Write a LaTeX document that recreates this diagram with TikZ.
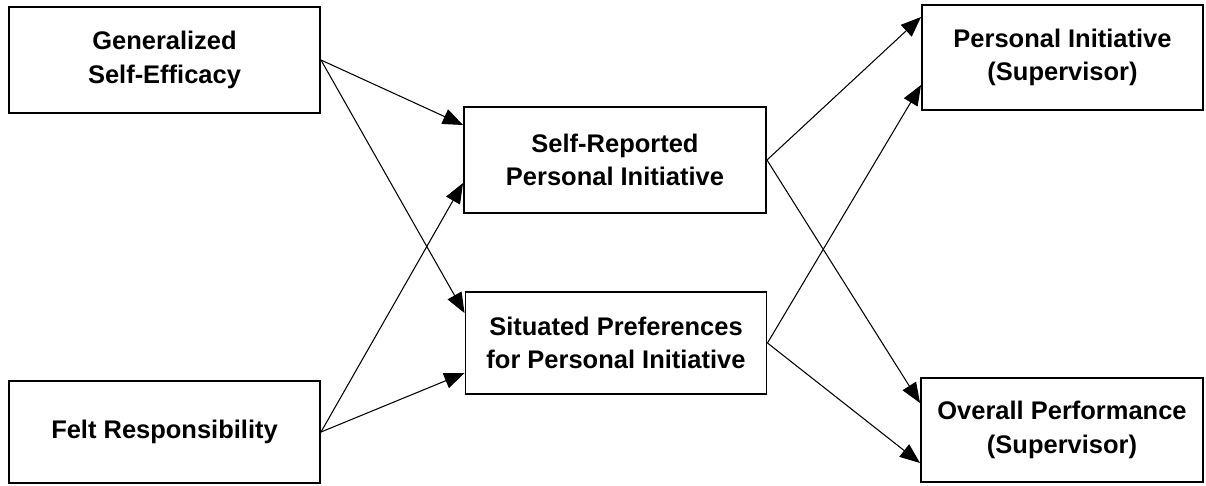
\documentclass[tikz,border=0pt]{standalone}
\usepackage{fontspec}
\setmainfont{Liberation Sans}
\usetikzlibrary{arrows.meta}
\begin{document}
\begin{tikzpicture}[x=0.02cm, y=-0.02cm]
		\tikzset{box/.style = {shape=rectangle, draw, line width=1.1pt, align=center,
				font=\fontsize{14.5}{19}\selectfont\bfseries, inner sep=0pt},
			path/.style = {line width=0.6pt, -{Triangle[length=11.5pt, width=9pt]}}}
		\useasboundingbox (0,0) rectangle (1206,485);
		% Draw the six measures
		\node[box, minimum width=311*0.02cm, minimum height=106*0.02cm] (A) at (164.5,60) {Generalized\\Self-Efficacy};
		\node[box, minimum width=311*0.02cm, minimum height=102*0.02cm] (B) at (164.5,432) {Felt Responsibility};
		\node[box, minimum width=302*0.02cm, minimum height=106*0.02cm] (C) at (615,160) {Self-Reported\\Personal Initiative};
		\node[box, minimum width=301*0.02cm, minimum height=102*0.02cm] (D) at (616,343) {Situated Preferences\\for Personal Initiative};
		\node[box, minimum width=281*0.02cm, minimum height=105*0.02cm] (E) at (1062.5,57.5) {Personal Initiative\\(Supervisor)};
		\node[box, minimum width=282*0.02cm, minimum height=104*0.02cm] (F) at (1062,430) {Overall Performance\\(Supervisor)};
		\draw[path] (A.east) -- ([yshift=0.70cm]C.west);
		\draw[path] (A.east) -- ([yshift=0.60cm]D.west);
		\draw[path] (B.east) -- ([yshift=-0.46cm]C.west);
		\draw[path] (B.east) -- ([yshift=-0.60cm]D.west);
		\draw[path] (C.east) -- ([yshift=0.81cm]E.west);
		\draw[path] (C.east) -- ([yshift=0.54cm]F.west);
		\draw[path] (D.east) -- ([yshift=-0.55cm]E.west);
		\draw[path] (D.east) -- ([yshift=-0.66cm]F.west);
	\end{tikzpicture}
\end{document}
